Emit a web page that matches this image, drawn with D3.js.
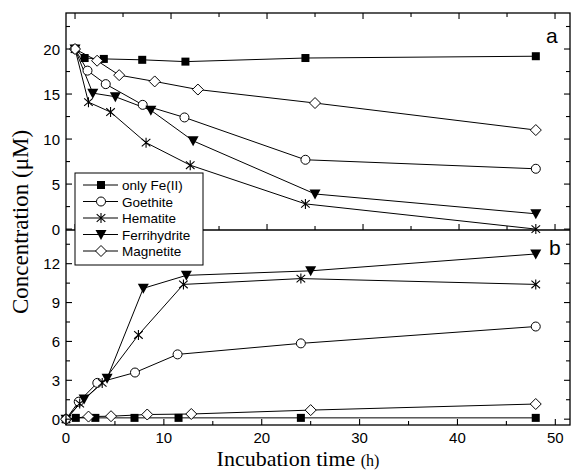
<!DOCTYPE html>
<html>
<head>
<meta charset="utf-8">
<script src="https://cdn.jsdelivr.net/npm/d3@7"></script>
<style>
  body { margin: 0; background: #fff; }
  svg { display: block; }
  .tick-label { font-family: Arial, "Liberation Sans", sans-serif; font-size: 15px; fill: #000; }
  .legend-label { font-family: Arial, "Liberation Sans", sans-serif; font-size: 13.5px; fill: #000; }
  .title { font-family: "Times New Roman", "Liberation Serif", serif; fill: #000; }
</style>
</head>
<body>
<svg id="chart"></svg>
<script>
// sampling times (h) for each series
const tFe = [0, 1, 3, 7, 11.5, 24, 48];
const tGoe = [0, 1.3, 3.2, 7.05, 11.4, 24, 48];
const tHem = [0, 1.4, 3.7, 7.4, 12, 24, 48];
const tFerri = [0, 1.85, 4.2, 7.9, 12.3, 25, 48];
const tMag = [0, 2.3, 4.6, 8.3, 12.8, 25, 48];

// panel a
const aFe = [20, 19.0, 18.9, 18.8, 18.6, 19.0, 19.2];
const aGoe = [20, 17.6, 16.1, 13.8, 12.4, 7.7, 6.7];
const aHem = [20, 14.1, 13.0, 9.6, 7.1, 2.8, 0];
const aFerri = [20, 15.1, 14.7, 13.2, 9.8, 3.9, 1.7];
const aMag = [20, 18.7, 17.1, 16.4, 15.5, 14.0, 11.0];

// panel b
const bFe = [0, 0.1, 0.1, 0.1, 0.1, 0.1, 0.1];
const bGoe = [0, 1.35, 2.8, 3.6, 5.0, 5.85, 7.15];
const bHem = [0, 1.2, 2.8, 6.5, 10.4, 10.85, 10.4];
const bFerri = [0, 1.55, 3.15, 10.1, 11.1, 11.45, 12.75];
const bMag = [0, 0.2, 0.23, 0.36, 0.4, 0.7, 1.17];

const names = ['only Fe(II)', 'Goethite', 'Hematite', 'Ferrihydrite', 'Magnetite'];
const symbols = ['square', 'circle', 'star', 'triangle', 'diamond'];

const xTicks = [0, 10, 20, 30, 40, 50];
const yTicksA = [0, 5, 10, 15, 20];
const yTicksB = [0, 3, 6, 9, 12];

const width = 574, height = 472;
const pLeft = 66, pRight = 570, pTop = 13, pMid = 230, pBottom = 425;

const svg = d3.select('#chart').attr('width', width).attr('height', height);

const xA = d3.scaleLinear().domain([-0.94, 51.56]).range([pLeft, pRight]);
const xB = d3.scaleLinear().domain([0, 51.5]).range([pLeft, pRight]);
const yA = d3.scaleLinear().domain([-0.1, 24]).range([pMid, pTop]);
const yB = d3.scaleLinear().domain([-0.45, 14.6]).range([pBottom, pMid]);

const marker = (g, type) => {
  if (type === 'square') {
    g.append('rect').attr('x', -4).attr('y', -4).attr('width', 8).attr('height', 8).attr('fill', '#000');
  } else if (type === 'circle') {
    g.append('circle').attr('r', 4.5).attr('fill', '#fff').attr('stroke', '#000').attr('stroke-width', 1);
  } else if (type === 'triangle') {
    g.append('path').attr('d', 'M-5.5,-4.5L5.5,-4.5L0,5.5Z').attr('fill', '#000');
  } else if (type === 'diamond') {
    g.append('path').attr('d', 'M0,-5.5L5.5,0L0,5.5L-5.5,0Z').attr('fill', '#fff').attr('stroke', '#000').attr('stroke-width', 1);
  } else {
    g.append('path').attr('d', 'M0,-5L0,5M-4.3,-3.8L4.3,3.8M-4.3,3.8L4.3,-3.8')
      .attr('stroke', '#000').attr('stroke-width', 1.1).attr('fill', 'none');
  }
};

const drawPanel = (x, y, times, values) => {
  const line = d3.line().x(d => x(d[0])).y(d => y(d[1]));
  values.forEach((vals, i) => {
    const pts = times[i].map((t, j) => [t, vals[j]]);
    svg.append('path').datum(pts).attr('d', line)
      .attr('fill', 'none').attr('stroke', '#000').attr('stroke-width', 1);
  });
  values.forEach((vals, i) => {
    times[i].forEach((t, j) => {
      const g = svg.append('g').attr('transform', `translate(${x(t)},${y(vals[j])})`);
      marker(g, symbols[i]);
    });
  });
};

const times = [tFe, tGoe, tHem, tFerri, tMag];
drawPanel(xA, yA, times, [aFe, aGoe, aHem, aFerri, aMag]);
drawPanel(xB, yB, times, [bFe, bGoe, bHem, bFerri, bMag]);

// frame
svg.append('rect').attr('x', pLeft).attr('y', pTop).attr('width', pRight - pLeft).attr('height', pBottom - pTop)
  .attr('fill', 'none').attr('stroke', '#000').attr('stroke-width', 1.3);
svg.append('line').attr('x1', pLeft).attr('x2', pRight).attr('y1', pMid).attr('y2', pMid)
  .attr('stroke', '#000').attr('stroke-width', 1.3);

const tick = (x1, y1, x2, y2) => svg.append('line')
  .attr('x1', x1).attr('y1', y1).attr('x2', x2).attr('y2', y2)
  .attr('stroke', '#000').attr('stroke-width', 1.1);

// x ticks (inward), every 5 h
d3.range(0, 51, 5).forEach(t => {
  const len = t % 10 === 0 ? 6 : 4;
  tick(xA(t), pTop, xA(t), pTop + len);
  tick(xA(t), pMid, xA(t), pMid - len);
  tick(xB(t), pBottom, xB(t), pBottom - len);
});

// y ticks (inward) on both sides
d3.range(0, 23, 2.5).forEach(v => {
  const len = v % 5 === 0 ? 6 : 4;
  tick(pLeft, yA(v), pLeft + len, yA(v));
  tick(pRight, yA(v), pRight - len, yA(v));
});
d3.range(0, 14, 1.5).forEach(v => {
  const len = v % 3 === 0 ? 6 : 4;
  tick(pLeft, yB(v), pLeft + len, yB(v));
  tick(pRight, yB(v), pRight - len, yB(v));
});

// tick labels
svg.selectAll('.xl').data(xTicks).enter().append('text')
  .attr('class', 'tick-label').attr('x', d => xB(d)).attr('y', 443)
  .attr('text-anchor', 'middle').text(d => d);
svg.selectAll('.yla').data(yTicksA).enter().append('text')
  .attr('class', 'tick-label').attr('x', 60).attr('y', d => yA(d) + 5.5)
  .attr('text-anchor', 'end').text(d => d);
svg.selectAll('.ylb').data(yTicksB).enter().append('text')
  .attr('class', 'tick-label').attr('x', 60).attr('y', d => yB(d) + 5.5)
  .attr('text-anchor', 'end').text(d => d);

// panel letters
svg.append('text').attr('class', 'tick-label').attr('x', 546).attr('y', 43)
  .style('font-size', '21px').text('a');
svg.append('text').attr('class', 'tick-label').attr('x', 549).attr('y', 255)
  .style('font-size', '21px').text('b');

// axis titles
const xt = svg.append('text').attr('class', 'title').attr('x', 298).attr('y', 466)
  .attr('text-anchor', 'middle').style('font-size', '22px');
xt.append('tspan').text('Incubation time ');
xt.append('tspan').style('font-size', '16px').text('(h)');

svg.append('text').attr('class', 'title')
  .attr('transform', 'translate(28,222) rotate(-90)')
  .attr('text-anchor', 'middle').style('font-size', '23px')
  .text('Concentration (\u03bcM)');

// legend
const legend = svg.append('g');
legend.append('rect').attr('x', 75).attr('y', 173).attr('width', 128).attr('height', 92)
  .attr('fill', '#fff').attr('stroke', '#000').attr('stroke-width', 1);
names.forEach((n, i) => {
  const ly = 185 + i * 16.5;
  legend.append('line').attr('x1', 83).attr('x2', 118).attr('y1', ly).attr('y2', ly)
    .attr('stroke', '#000').attr('stroke-width', 1);
  marker(legend.append('g').attr('transform', `translate(101,${ly})`), symbols[i]);
  legend.append('text').attr('class', 'legend-label').attr('x', 122).attr('y', ly + 5).text(n);
});
</script>
</body>
</html>
